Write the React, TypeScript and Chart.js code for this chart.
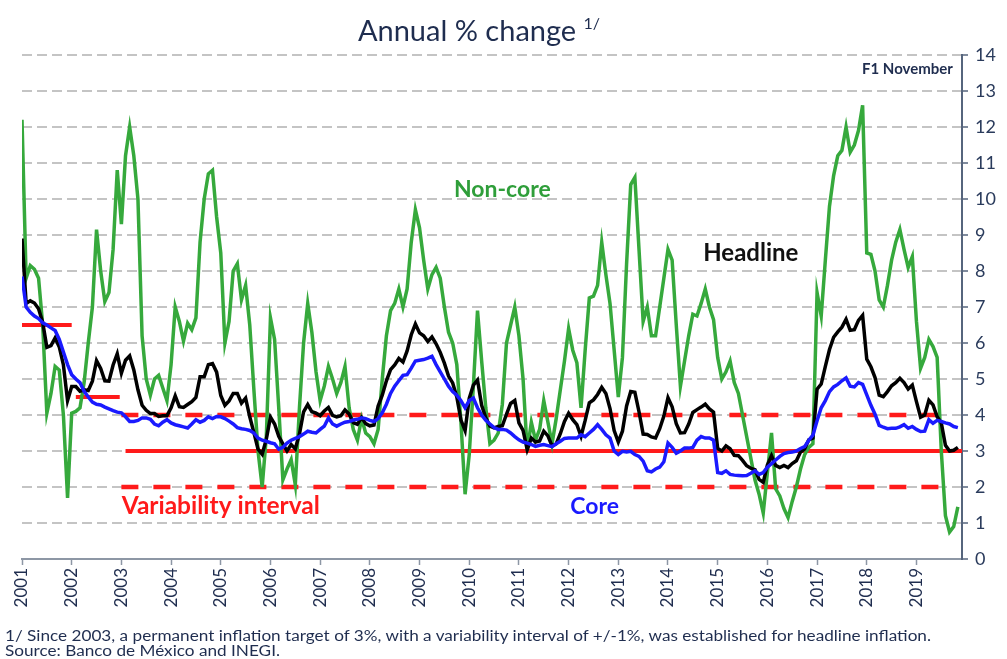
import React, { useEffect, useRef } from "react";
import { Chart, registerables } from "chart.js";

Chart.register(...registerables);

// Monthly observations, Jan 2001 (index 0) to Nov 2019 (index 226)
const firstYear = 2001;
const yearTicks = [2001, 2002, 2003, 2004, 2005, 2006, 2007, 2008, 2009, 2010, 2011, 2012, 2013, 2014, 2015, 2016, 2017, 2018, 2019];

const headline = [
  8.9, 7.1, 7.17, 7.11, 6.95, 6.57, 5.88, 5.93, 6.14, 5.89, 5.39, 4.4,
  4.79, 4.79, 4.66, 4.7, 4.68, 4.94, 5.51, 5.29, 4.95, 4.94, 5.39, 5.7,
  5.16, 5.52, 5.64, 5.25, 4.7, 4.27, 4.13, 4.04, 4.04, 3.96, 3.98, 3.98,
  4.2, 4.53, 4.23, 4.21, 4.29, 4.37, 4.49, 5.06, 5.06, 5.4, 5.43, 5.19,
  4.54, 4.27, 4.39, 4.6, 4.6, 4.33, 4.47, 3.95, 3.51, 3.05, 2.91, 3.33,
  3.94, 3.75, 3.41, 3.2, 3.0, 3.18, 3.06, 3.47, 4.09, 4.29, 4.09, 4.05,
  3.98, 4.11, 4.21, 3.99, 3.95, 3.98, 4.14, 4.03, 3.79, 3.74, 3.93, 3.76,
  3.7, 3.72, 4.25, 4.55, 4.95, 5.26, 5.39, 5.57, 5.47, 5.78, 6.23, 6.53,
  6.28, 6.2, 6.04, 6.17, 5.98, 5.74, 5.44, 5.08, 4.89, 4.5, 3.86, 3.57,
  4.46, 4.83, 4.97, 4.27, 3.92, 3.69, 3.64, 3.68, 3.7, 4.02, 4.32, 4.4,
  3.78, 3.57, 3.04, 3.36, 3.25, 3.28, 3.55, 3.42, 3.14, 3.2, 3.48, 3.82,
  4.05, 3.87, 3.73, 3.41, 3.85, 4.34, 4.42, 4.57, 4.77, 4.6, 4.18, 3.57,
  3.25, 3.55, 4.25, 4.65, 4.63, 4.09, 3.47, 3.46, 3.39, 3.36, 3.62, 3.97,
  4.48, 4.23, 3.76, 3.5, 3.51, 3.75, 4.07, 4.15, 4.22, 4.3, 4.17, 4.08,
  3.07, 3.0, 3.14, 3.06, 2.88, 2.87, 2.74, 2.59, 2.52, 2.48, 2.21, 2.13,
  2.61, 2.87, 2.6, 2.54, 2.6, 2.54, 2.65, 2.73, 2.97, 3.06, 3.31, 3.36,
  4.72, 4.86, 5.35, 5.82, 6.16, 6.31, 6.44, 6.66, 6.35, 6.37, 6.63, 6.77,
  5.55, 5.34, 5.04, 4.55, 4.51, 4.65, 4.81, 4.9, 5.02, 4.9, 4.72, 4.83,
  4.37, 3.94, 4.0, 4.41, 4.28, 3.95, 3.78, 3.16, 3.0, 3.02, 3.1,
];

const core = [
  7.85, 7.0, 6.85, 6.75, 6.68, 6.56, 6.5, 6.42, 6.35, 6.1, 5.75, 5.4,
  5.12, 5.0, 4.9, 4.66, 4.5, 4.36, 4.3, 4.28, 4.22, 4.17, 4.12, 4.08,
  4.06, 3.95, 3.82, 3.82, 3.85, 3.92, 3.92, 3.88, 3.75, 3.7, 3.8, 3.87,
  3.78, 3.73, 3.7, 3.67, 3.64, 3.75, 3.87, 3.8, 3.85, 3.95, 3.9, 3.96,
  3.95, 3.9, 3.83, 3.75, 3.65, 3.62, 3.6, 3.57, 3.5, 3.36, 3.3, 3.27,
  3.23, 3.2, 3.05, 3.1, 3.22, 3.3, 3.35, 3.4, 3.47, 3.55, 3.52, 3.5,
  3.6, 3.69, 3.92, 3.75, 3.69, 3.75, 3.8, 3.82, 3.86, 3.88, 3.92, 3.9,
  3.85, 3.82, 3.9, 4.06, 4.3, 4.6, 4.8, 4.95, 5.1, 5.12, 5.3, 5.5,
  5.52, 5.54, 5.58, 5.63, 5.4, 5.2, 5.0, 4.8, 4.65, 4.55, 4.4, 4.2,
  4.4, 4.47, 4.2, 4.0, 3.85, 3.75, 3.65, 3.6, 3.6, 3.58, 3.5, 3.4,
  3.31, 3.25, 3.22, 3.18, 3.13, 3.16, 3.18, 3.15, 3.12, 3.2, 3.27, 3.35,
  3.36, 3.36, 3.36, 3.45, 3.4, 3.5, 3.6, 3.73, 3.6, 3.45, 3.36, 3.0,
  2.9, 2.99, 2.97, 2.99, 2.9, 2.85, 2.72, 2.45, 2.42, 2.5, 2.55, 2.7,
  3.22, 3.1, 2.94, 3.0, 3.08, 3.08, 3.1, 3.3, 3.4, 3.36, 3.36, 3.3,
  2.4, 2.38, 2.45, 2.35, 2.33, 2.32, 2.31, 2.32, 2.38, 2.45, 2.35, 2.4,
  2.55, 2.65, 2.75, 2.85, 2.93, 2.96, 2.97, 3.0, 3.07, 3.12, 3.3, 3.44,
  3.84, 4.2, 4.4, 4.65, 4.78, 4.85, 4.95, 5.03, 4.8, 4.78, 4.9, 4.85,
  4.56, 4.27, 4.02, 3.71, 3.66, 3.62, 3.63, 3.63, 3.67, 3.73, 3.63, 3.68,
  3.6, 3.54, 3.55, 3.87, 3.77, 3.85, 3.82, 3.78, 3.75, 3.68, 3.65,
];

const nonCore = [
  12.2, 7.8, 8.15, 8.05, 7.8, 6.5, 4.05, 4.6, 5.35, 5.25, 4.0, 1.7,
  4.05, 4.1, 4.2, 4.9, 6.0, 7.0, 9.15, 8.0, 7.15, 7.4, 8.6, 10.8,
  9.3, 11.2, 12.0, 11.2, 10.0, 6.2, 5.0, 4.55, 5.0, 5.1, 4.75, 4.4,
  5.4, 7.0, 6.6, 6.05, 6.55, 6.37, 6.7, 8.8, 10.0, 10.7, 10.8, 9.5,
  8.5, 6.0, 6.6, 8.0, 8.2, 7.2, 7.6, 6.5, 4.7, 3.0, 2.0, 3.4,
  6.7, 6.1, 4.2, 2.2, 2.5, 2.76, 2.06, 4.2, 6.0, 7.1, 6.3, 5.2,
  4.4, 4.8, 5.35, 5.0, 4.6, 4.9, 5.35, 4.2, 3.6, 3.3, 3.9, 3.5,
  3.4, 3.2, 3.6, 5.0, 6.2, 6.9, 7.1, 7.5, 7.0, 7.5, 8.8, 9.7,
  9.2, 8.3, 7.5, 7.9, 8.1, 7.8, 7.0, 6.3, 6.0, 5.4, 3.8, 1.8,
  2.9, 4.8, 6.9, 5.5, 4.2, 3.2, 3.3, 3.5, 4.3, 6.0, 6.5, 7.0,
  6.2, 5.0, 3.0, 3.8, 3.3, 3.6, 4.4, 3.8, 3.2, 3.9, 4.7, 5.5,
  6.4, 5.8, 5.45, 4.2, 5.8, 7.25, 7.3, 7.6, 8.8, 7.9, 7.1, 5.8,
  4.5, 5.6, 8.2, 10.4, 10.6, 8.6, 6.6, 7.0, 6.2, 6.2, 7.0, 7.8,
  8.6, 8.3, 6.5, 4.8, 5.5, 6.2, 6.8, 6.75, 7.1, 7.5, 7.0, 6.65,
  5.6, 5.0, 5.2, 5.5, 4.9, 4.6, 4.0, 3.4, 2.8, 2.2, 1.8, 1.28,
  2.4, 3.5, 1.95, 1.75, 1.4, 1.15, 1.6, 2.0, 2.5, 2.9, 3.1, 3.2,
  7.4, 6.75, 8.3, 9.8, 10.65, 11.2, 11.35, 12.0, 11.3, 11.5, 11.9, 12.6,
  8.5, 8.46, 8.0, 7.2, 7.0, 7.6, 8.3, 8.8, 9.15, 8.6, 8.1, 8.4,
  6.6, 5.3, 5.6, 6.1, 5.9, 5.6, 3.0, 1.2, 0.75, 0.9, 1.45,
];

// Inflation target segments (month index start / end, level)
const targetStart = [0, 13, 25];
const targetEnd = [12, 23.6, 227];
const targetLevel = [6.5, 4.5, 3];
// Variability interval (dashed)
const bandStart = 24;
const bandEnd = 224;
const bandLevels = [4, 2];

const yTicks = [0, 14];
const monthsShown = 227;

const textLabels = [
  { text: "Non-core", x: 116, y: 10.26, color: "#2f9e3a", font: "bold 23px Lato", align: "center" },
  { text: "Headline", x: 176, y: 8.5, color: "#111111", font: "bold 24px Lato", align: "center" },
  { text: "Variability interval", x: 48, y: 1.48, color: "#ff1a1a", font: "bold 24.5px Lato", align: "center" },
  { text: "Core", x: 138.3, y: 1.45, color: "#1a1aff", font: "bold 23px Lato", align: "center" },
  { text: "F1 November", x: 224.8, y: 13.6, color: "#1f2d4f", font: "bold 15px Lato", align: "right" },
];

const labelPlugin = {
  id: "textLabels",
  afterDatasetsDraw(chart: any) {
    const { ctx, scales } = chart;
    const xs = scales.x;
    const ys = scales.y;
    ctx.save();
    for (const l of textLabels) {
      ctx.font = l.font;
      ctx.fillStyle = l.color;
      ctx.textAlign = l.align;
      ctx.textBaseline = "middle";
      ctx.fillText(l.text, xs.getPixelForValue(l.x), ys.getPixelForValue(l.y));
    }
    ctx.restore();
  },
};

const toPoints = (arr: number[]) => arr.map((v, i) => ({ x: i, y: v }));

export default function App() {
  const ref = useRef<HTMLCanvasElement | null>(null);

  useEffect(() => {
    if (!ref.current) return;
    const red = "#ff1a1a";
    const datasets: any[] = [
      {
        label: "Core",
        data: toPoints(core),
        borderColor: "#1a1aff",
        borderWidth: 3.5,
        pointRadius: 0,
        tension: 0,
        order: 1,
      },
      {
        label: "Headline",
        data: toPoints(headline),
        borderColor: "#000000",
        borderWidth: 3.5,
        pointRadius: 0,
        tension: 0,
        order: 2,
      },
      {
        label: "Non-core",
        data: toPoints(nonCore),
        borderColor: "#36a93c",
        borderWidth: 3.5,
        pointRadius: 0,
        tension: 0,
        order: 3,
      },
    ];
    targetLevel.forEach((lvl, i) => {
      datasets.push({
        label: "Target " + i,
        data: [
          { x: targetStart[i], y: lvl },
          { x: targetEnd[i], y: lvl },
        ],
        borderColor: red,
        borderWidth: 4,
        pointRadius: 0,
        order: 5,
      });
    });
    bandLevels.forEach((lvl, i) => {
      datasets.push({
        label: "Band " + i,
        data: [
          { x: bandStart, y: lvl },
          { x: bandEnd, y: lvl },
        ],
        borderColor: red,
        borderWidth: 4.5,
        borderDash: [17, 15],
        pointRadius: 0,
        order: 5,
      });
    });

    const chart = new Chart(ref.current, {
      type: "line",
      data: { datasets },
      options: {
        animation: false,
        responsive: false,
        layout: { padding: { left: 22, top: 55, right: 0, bottom: 50 } },
        plugins: { legend: { display: false }, tooltip: { enabled: false } },
        scales: {
          x: {
            type: "linear",
            min: 0,
            max: monthsShown,
            afterFit: (s: any) => {
              s.height = 50;
            },
            border: { display: true, color: "#8d97a5", width: 2 },
            grid: {
              drawOnChartArea: false,
              drawTicks: true,
              tickLength: 6,
              tickWidth: 1.5,
              tickColor: "#8d97a5",
            },
            ticks: {
              stepSize: 12,
              includeBounds: false,
              autoSkip: false,
              minRotation: 90,
              maxRotation: 90,
              padding: 3,
              color: "#1f2d4f",
              font: { family: "Lato", size: 17 },
              callback: (v: any) => {
                const idx = Number(v) / 12;
                return Number.isInteger(idx) ? String(yearTicks[idx] ?? firstYear + idx) : "";
              },
            },
          },
          y: {
            type: "linear",
            position: "right",
            min: yTicks[0],
            max: yTicks[1],
            afterFit: (s: any) => {
              s.width = 45;
            },
            border: { display: true, color: "#56657d", width: 2, dash: [10, 5] },
            grid: {
              drawOnChartArea: true,
              drawTicks: true,
              tickLength: 6,
              tickWidth: 1.5,
              tickColor: "#56657d",
              tickBorderDash: [],
              lineWidth: 2,
              color: (c: any) => (c.tick && c.tick.value === 0 ? "rgba(0,0,0,0)" : "#c4c4c4"),
            },
            ticks: {
              stepSize: 1,
              padding: 7,
              color: "#2a3b5c",
              font: { family: "Lato", size: 18 },
            },
          },
        },
      },
      plugins: [labelPlugin],
    });
    return () => chart.destroy();
  }, []);

  return (
    <div
      style={{
        position: "absolute",
        left: 0,
        top: 0,
        width: 1007,
        height: 659,
        background: "#ffffff",
        overflow: "hidden",
      }}
    >
      <canvas ref={ref} width={1007} height={659} style={{ position: "absolute", left: 0, top: 0 }} />
      <div
        style={{
          position: "absolute",
          left: 0,
          top: 14,
          width: 958,
          textAlign: "center",
          fontFamily: "Lato",
          fontSize: 29,
          color: "#1f2d4f",
          lineHeight: "32px",
        }}
      >
        Annual % change <sup style={{ fontSize: 16, verticalAlign: "top", position: "relative", top: -7 }}>1/</sup>
      </div>
      <div
        style={{
          position: "absolute",
          left: 5,
          top: 628,
          fontFamily: "Lato",
          fontSize: 15.5,
          lineHeight: "15px",
          color: "#1f2d4f",
          whiteSpace: "nowrap",
          transform: "scaleX(1.107)",
          transformOrigin: "0 0",
        }}
      >
        <div>1/ Since 2003, a permanent inflation target of 3%, with a variability interval of +/-1%, was established for headline inflation.</div>
        <div>Source: Banco de México and INEGI.</div>
      </div>
    </div>
  );
}
